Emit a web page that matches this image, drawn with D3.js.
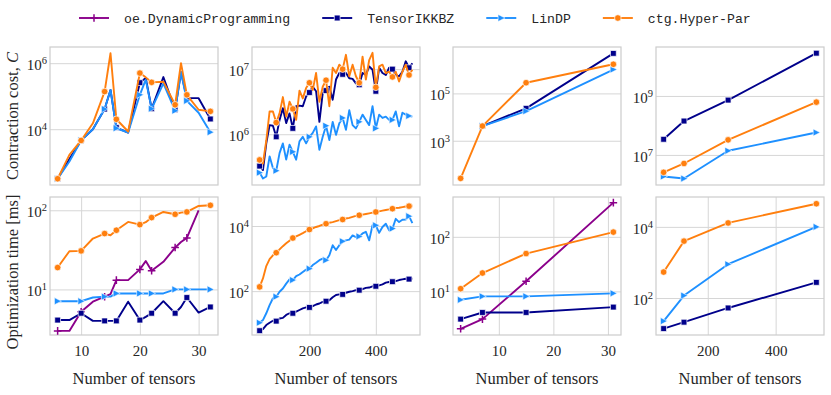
<!DOCTYPE html>
<html>
<head>
<meta charset="utf-8">
<script src="https://cdn.jsdelivr.net/npm/d3@7"></script>
<style>
  body { margin: 0; background: #fff; }
  svg text { fill: #262626; }
</style>
</head>
<body>
<div id="chart"></div>
<script>
// ---------- data ----------
var names = ["oe.DynamicProgramming", "TensorIKKBZ", "LinDP", "ctg.Hyper-Par"];
var colors = ["#8b008b", "#00008b", "#1e90ff", "#ff7f0e"];
var markers = ["plus", "square", "tri", "circle"];

// column 1
var n1 = [6, 8, 10, 12, 14, 15, 16, 18, 20, 21, 22, 24, 26, 27, 28, 30, 32];
var cost1Ikkbz = [316, 1260, 4570, 10000, 40700, 155000, 11200, 7940, 257000, 355000, 41700, 380000, 38900, 537000, 87100, 87100, 20400];
var cost1Lindp = [316, 1050, 4570, 10000, 40700, 155000, 10700, 7940, 110000, 316000, 41700, 245000, 36300, 537000, 72400, 31600, 8130];
var cost1Ctg = [316, 1660, 4570, 15100, 138000, 2000000, 20000, 8510, 501000, 372000, 263000, 275000, 55000, 1000000, 110000, 38900, 34700];
var time1Dp = [2.99, 2.99, 5.22, 7.0, 8.09, 8.71, 13.1, 13.1, 17.9, 22.8, 17.2, 22.3, 33.8, 39.8, 44.8, 100, null];
var time1Ikkbz = [4.1, 4.1, 5.0, 4.0, 4.0, 4.0, 4.0, 7.0, 4.1, 4.5, 5.0, 7.1, 5.0, 6.0, 7.9, 5.1, 6.0];
var time1Lindp = [7.1, 7.1, 7.1, 7.9, 8.1, 8.1, 8.9, 8.9, 8.9, 8.9, 8.9, 8.9, 10, 10, 10, 10, 10];
var time1Ctg = [18.9, 30.4, 30.7, 44.0, 50.8, 48.4, 56.0, 71.3, 65.9, 70.8, 80.9, 95.3, 89.1, 93.3, 95.3, 113.5, 115.6];

// column 2
var n2 = [50, 60, 70, 80, 90, 100, 110, 120, 130, 140, 150, 160, 170, 180, 190, 200, 210, 220, 230, 240,
          250, 260, 270, 280, 290, 300, 310, 320, 330, 340, 350, 360, 370, 380, 390, 400, 410, 420, 430, 440,
          450, 460, 470, 480, 490, 500, 510];
var cost2Ikkbz = [3.24e5, 2.82e5, 7.24e5, 1.38e6, 1.35e6, 9.12e5, 1.66e6, 2.51e6, 1.48e6, 2.09e6,
                  1.23e6, 2.69e6, 2.75e6, 2.69e6, 3.80e6, 4.37e6, 5.37e6, 4.57e6, 1.55e6, 4.27e6,
                  4.68e6, 5.37e6, 3.39e6, 6.92e6, 8.71e6, 8.32e6, 8.71e6, 7.24e6, 7.08e6, 6.03e6,
                  5.75e6, 8.71e6, 8.13e6, 1.10e7, 9.77e6, 4.57e6, 1.05e7, 8.71e6, 8.13e6, 1.05e7,
                  1.00e7, 8.13e6, 7.76e6, 9.12e6, 1.32e7, 1.05e7, 1.23e7];
var cost2Lindp = [2.57e5, 2.09e5, 2.24e5, 4.57e5, 3.02e5, 2.75e5, 5.13e5, 7.24e5, 4.07e5, 6.92e5,
                  5.37e5, 4.07e5, 7.76e5, 9.12e5, 7.24e5, 9.12e5, 1.05e6, 1.32e6, 5.75e5, 9.12e5,
                  1.35e6, 8.13e5, 1.55e6, 9.77e5, 1.48e6, 1.78e6, 1.17e6, 2.34e6, 1.38e6, 1.23e6,
                  1.55e6, 2.00e6, 1.66e6, 1.38e6, 2.69e6, 1.23e6, 2.00e6, 1.78e6, 1.86e6, 1.66e6,
                  1.66e6, 2.24e6, 1.32e6, 2.14e6, 2.00e6, 1.91e6, 1.86e6];
var cost2Ctg = [4.03e5, 3.55e5, 7.94e5, 2.24e6, 2.24e6, 1.51e6, 2.09e6, 3.72e6, 1.86e6, 3.16e6,
                2.45e6, 1.66e6, 4.68e6, 3.55e6, 5.13e6, 6.17e6, 4.79e6, 8.71e6, 3.16e6, 5.37e6,
                6.76e6, 2.69e6, 1.05e7, 8.71e6, 1.17e7, 1.00e7, 1.66e7, 7.76e6, 1.17e7, 7.76e6,
                6.17e6, 1.55e7, 6.92e6, 1.38e7, 1.78e7, 5.25e6, 1.10e7, 1.17e7, 8.71e6, 9.12e6,
                7.59e6, 9.12e6, 6.46e6, 9.12e6, 1.17e7, 8.13e6, 9.77e6];
var time2Ikkbz = [6.1, 6.8, 9.1, 10.7, 12.3, 12.0, 14.5, 15.1, 18.6, 20.9,
                  20.9, 23.4, 26.3, 29.5, 31.6, 31.6, 34.7, 38.9, 41.7, 46.8,
                  49.0, 52.5, 64.6, 75.9, 79.4, 79.4, 89.1, 95.5, 100, 107,
                  107, 115, 126, 129, 141, 141, 151, 162, 182, 191,
                  195, 204, 219, 229, 240, 234, 245];
var time2Lindp = [10.7, 12.9, 20.9, 37.2, 60.3, 67.6, 95.5, 120, 170, 229,
                  219, 288, 324, 389, 457, 490, 631, 741, 891, 1000,
                  891, 1260, 2570, 1820, 2570, 3390, 3630, 3800, 5130, 4570,
                  4790, 5890, 6610, 3630, 10500, 10500, 6170, 9330, 11700, 7410,
                  8320, 16600, 13200, 15500, 15800, 20000, 12300];
var time2Ctg = [135, 245, 589, 955, 1260, 1510, 1910, 2400, 2950, 3550,
                4270, 4790, 5370, 6030, 6920, 7760, 8510, 9330, 10000, 11000,
                11700, 12600, 13200, 14100, 15100, 15800, 17000, 17800, 19100, 20400,
                21400, 22400, 23400, 24500, 25700, 26900, 28200, 29500, 30900, 32400,
                33900, 35500, 36300, 38000, 39800, 40700, 42700];

// column 3
var n3 = [3, 7, 15, 31];
var cost3Ikkbz = [null, 4170, 23400, 4.9e6];
var cost3Lindp = [null, 4170, 17800, 1.02e6];
var cost3Ctg = [25.7, 4170, 282000, 1.70e6];
var time3Dp = [2.06, 3.1, 15.3, 423];
var time3Ikkbz = [3.1, 4.1, 4.1, 5.15];
var time3Lindp = [7.0, 8.1, 8.1, 9.2];
var time3Ctg = [11.2, 21.7, 49.3, 122];

// column 4
var n4 = [70, 130, 260, 520];
var cost4Ikkbz = [3.39e7, 1.41e8, 7.24e8, 2.82e10];
var cost4Lindp = [1.86e6, 1.58e6, 1.38e7, 5.75e7];
var cost4Ctg = [2.57e6, 5.13e6, 3.24e7, 6.17e8];
var time4Ikkbz = [13.8, 20.9, 52.5, 275];
var time4Lindp = [22.4, 117, 891, 10000];
var time4Ctg = [537, 3980, 12900, 44700];

// ticks
var costTicks = [[1e4, 1e6], [1e6, 1e7], [1e3, 1e5], [1e7, 1e9]];
var timeTicks = [[1e1, 1e2], [1e2, 1e4], [1e1, 1e2], [1e2, 1e4]];
var xTicks = [[10, 20, 30], [200, 400], [10, 20, 30], [200, 400]];

// ---------- layout ----------
var W = 831, H = 395;
var colLeft = [50, 252, 453, 656];
var rowTop = [47, 197];
var pw = 168, ph = 138;
var gridColor = "#d6d6d6", frameColor = "#cccccc";
var serif = "'Liberation Serif', 'Times New Roman', serif";

var xDomains = [[4.7, 33.3], [27, 533], [1.6, 32.4], [47.5, 542.5]];
var costDomains = [[2.31, 6.49], [5.22, 7.34], [1.13, 6.96], [5.98, 10.66]];
var timeDomains = [[0.424, 2.168], [0.653, 4.89], [0.2, 2.73], [0.96, 4.84]];
var markEvery = [2, 5, 1, 1];

var panels = [
  {col: 0, row: 0, x: n1, s: [null, cost1Ikkbz, cost1Lindp, cost1Ctg]},
  {col: 1, row: 0, x: n2, s: [null, cost2Ikkbz, cost2Lindp, cost2Ctg]},
  {col: 2, row: 0, x: n3, s: [null, cost3Ikkbz, cost3Lindp, cost3Ctg]},
  {col: 3, row: 0, x: n4, s: [null, cost4Ikkbz, cost4Lindp, cost4Ctg]},
  {col: 0, row: 1, x: n1, s: [time1Dp, time1Ikkbz, time1Lindp, time1Ctg]},
  {col: 1, row: 1, x: n2, s: [null, time2Ikkbz, time2Lindp, time2Ctg]},
  {col: 2, row: 1, x: n3, s: [time3Dp, time3Ikkbz, time3Lindp, time3Ctg]},
  {col: 3, row: 1, x: n4, s: [null, time4Ikkbz, time4Lindp, time4Ctg]}
];

var svg = d3.select("#chart").append("svg")
    .attr("width", W)
    .attr("height", H)
    .style("font-family", serif);

function drawMarker(sel, kind, color) {
    if (kind == "circle") {
        sel.append("circle").attr("r", 3.3)
            .attr("fill", color).attr("stroke", "#fff").attr("stroke-width", 0.7);
    } else if (kind == "square") {
        sel.append("path").attr("d", d3.symbol().type(d3.symbolSquare).size(34)())
            .attr("fill", color).attr("stroke", "#fff").attr("stroke-width", 0.7);
    } else if (kind == "tri") {
        sel.append("path").attr("d", "M-3.2,-3.6L3.8,0L-3.2,3.6Z")
            .attr("fill", color).attr("stroke", "#fff").attr("stroke-width", 0.6);
    } else {
        sel.append("path").attr("d", "M-3.8,0H3.8M0,-3.8V3.8")
            .attr("stroke", color).attr("stroke-width", 1.5).attr("fill", "none");
    }
}

function pow10(a) { return [Math.pow(10, a[0]), Math.pow(10, a[1])]; }

panels.forEach(function (p) {
    var g = svg.append("g")
        .attr("transform", "translate(" + colLeft[p.col] + "," + rowTop[p.row] + ")");

    var x = d3.scaleLinear().domain(xDomains[p.col]).range([0, pw]);
    var y = d3.scaleLog()
        .domain(pow10(p.row == 0 ? costDomains[p.col] : timeDomains[p.col]))
        .range([ph, 0]);

    // horizontal grid + y tick labels
    var ya = g.append("g")
        .call(d3.axisLeft(y)
            .tickValues(p.row == 0 ? costTicks[p.col] : timeTicks[p.col])
            .tickSize(-pw).tickPadding(3).tickFormat(""))
        .attr("font-family", serif);
    ya.select(".domain").remove();
    ya.selectAll(".tick line").attr("stroke", gridColor).attr("stroke-width", 1);
    ya.selectAll(".tick text").each(function (d) {
        var t = d3.select(this).attr("dy", "0.42em").style("font-size", "15px");
        t.append("tspan").text("10");
        t.append("tspan").attr("dy", "-6").style("font-size", "10.5px")
            .text(Math.round(Math.log10(d)));
    });

    // vertical grid + x ticks in bottom row
    if (p.row == 1) {
        var xa = g.append("g")
            .attr("transform", "translate(0," + ph + ")")
            .call(d3.axisBottom(x).tickValues(xTicks[p.col]).tickSize(-ph).tickPadding(10))
            .attr("font-family", serif);
        xa.select(".domain").remove();
        xa.selectAll(".tick line").attr("stroke", gridColor).attr("stroke-width", 1);
        xa.selectAll(".tick text").style("font-size", "15px");

        g.append("text")
            .attr("x", pw / 2)
            .attr("y", ph + 49)
            .attr("text-anchor", "middle")
            .style("font-size", "16.5px")
            .text("Number of tensors");
    }

    g.append("rect")
        .attr("width", pw).attr("height", ph)
        .attr("fill", "none")
        .attr("stroke", frameColor)
        .attr("stroke-width", 1.2);

    var line = d3.line()
        .defined(function (d) { return d.v != null; })
        .x(function (d) { return x(d.x); })
        .y(function (d) { return y(d.v); });

    p.s.forEach(function (vals, k) {
        if (!vals) return;
        var pts = p.x.map(function (xv, i) { return {x: xv, v: vals[i], i: i}; })
            .filter(function (d) { return d.v != null; });
        g.append("path")
            .datum(pts)
            .attr("d", line)
            .attr("fill", "none")
            .attr("stroke", colors[k])
            .attr("stroke-width", 1.9)
            .attr("stroke-linejoin", "round");

        var every = markEvery[p.col];
        g.selectAll(null)
            .data(pts.filter(function (d) { return d.i % every == 0; }))
            .enter()
            .append("g")
            .attr("transform", function (d) { return "translate(" + x(d.x) + "," + y(d.v) + ")"; })
            .each(function () { drawMarker(d3.select(this), markers[k], colors[k]); });
    });
});

// y labels
var yl = svg.append("text")
    .attr("transform", "translate(18," + (rowTop[0] + ph / 2) + ") rotate(-90)")
    .attr("text-anchor", "middle")
    .style("font-size", "16.5px");
yl.append("tspan").text("Contraction cost, ");
yl.append("tspan").style("font-style", "italic").text("C");

svg.append("text")
    .attr("transform", "translate(18," + (rowTop[1] + ph / 2 + 6) + ") rotate(-90)")
    .attr("text-anchor", "middle")
    .style("font-size", "16.5px")
    .text("Optimization time [ms]");

// legend
var legend = svg.append("g").attr("transform", "translate(0,18)");
var cursor = 79;
names.forEach(function (nm, k) {
    var item = legend.append("g").attr("transform", "translate(" + cursor + ",0)");
    item.append("line")
        .attr("x1", 0).attr("x2", 30)
        .attr("stroke", colors[k]).attr("stroke-width", 1.9);
    drawMarker(item.append("g").attr("transform", "translate(15,0)"), markers[k], colors[k]);
    var txt = item.append("text")
        .attr("x", 45)
        .attr("dy", "0.35em")
        .style("font-family", "'Liberation Mono', 'DejaVu Sans Mono', monospace")
        .style("font-size", "13.2px")
        .text(nm);
    cursor += 45 + txt.node().getComputedTextLength() + 32;
});
</script>
</body>
</html>
